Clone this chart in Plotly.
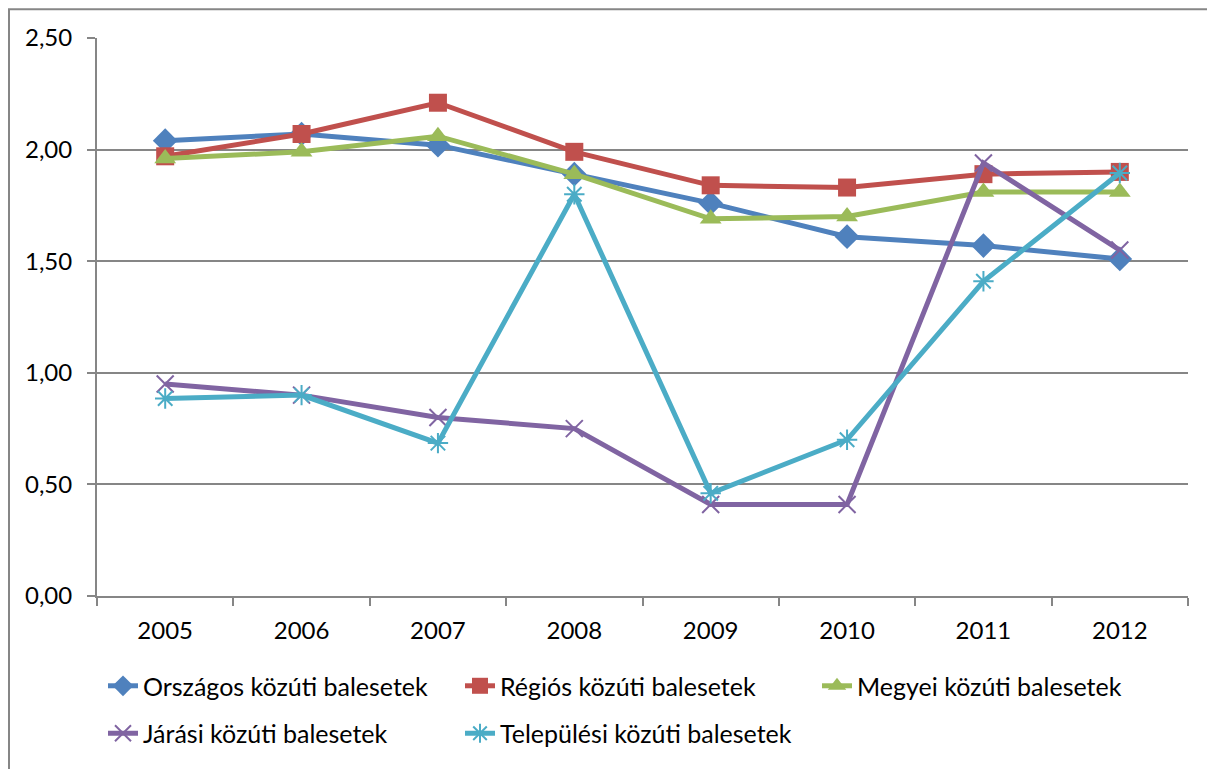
import plotly.graph_objects as go

years = ["2005", "2006", "2007", "2008", "2009", "2010", "2011", "2012"]
orszagos = [2.04, 2.07, 2.02, 1.89, 1.76, 1.61, 1.57, 1.51]
regios = [1.97, 2.07, 2.21, 1.99, 1.84, 1.83, 1.89, 1.90]
megyei = [1.96, 1.99, 2.06, 1.89, 1.69, 1.70, 1.81, 1.81]
jarasi = [0.95, 0.90, 0.80, 0.75, 0.41, 0.41, 1.94, 1.55]
telepulesi = [0.885, 0.90, 0.685, 1.80, 0.46, 0.70, 1.41, 1.895]

names = ["Országos közúti balesetek", "Régiós közúti balesetek", "Megyei közúti balesetek",
         "Járási közúti balesetek", "Települési közúti balesetek"]
colors = ["#4F81BD", "#C0504D", "#9BBB59", "#8064A2", "#4BACC6"]

FONT = "Lato, 'Liberation Sans', Arial, sans-serif"
# page body has an 8px margin; figure coordinates are screen minus 8
W, H = 1207, 761
L, R, T, B = 89, 1180, 30, 594

fig = go.Figure()
series = [orszagos, regios, megyei, jarasi, telepulesi]
markers = [
    dict(symbol="diamond", size=19),
    dict(symbol="square", size=18),
    dict(symbol="triangle-up", size=19),
    dict(symbol="x-thin", size=17, line=dict(width=2)),
    dict(symbol="asterisk", size=17, line=dict(width=2)),
]
for i, (vals, nm, c, mk) in enumerate(zip(series, names, colors, markers)):
    m = dict(mk, color=c)
    if "line" in m:
        m["line"] = dict(m["line"], color=c)
    fig.add_trace(go.Scatter(
        x=years, y=vals, name=nm, mode="lines+markers",
        line=dict(color=c, width=5), marker=m,
        legend="legend" if i < 3 else "legend2",
    ))

def px(x):
    return (x - L) / (R - L)

def py(y):
    return (B - y) / (B - T)

fig.update_layout(
    width=W, height=H,
    margin=dict(l=L, r=W - R, t=T, b=H - B),
    paper_bgcolor="white", plot_bgcolor="white",
    separators=", ",
    font=dict(family=FONT, size=24, color="black"),
    showlegend=True,
    legend=dict(orientation="h", x=px(95), xanchor="left", y=py(685), yanchor="middle",
                entrywidth=312, entrywidthmode="pixels", font=dict(size=25),
                bgcolor="rgba(0,0,0,0)", tracegroupgap=0),
    legend2=dict(orientation="h", x=px(95), xanchor="left", y=py(733), yanchor="middle",
                 entrywidth=312, entrywidthmode="pixels", font=dict(size=25),
                 bgcolor="rgba(0,0,0,0)", tracegroupgap=0),
    xaxis=dict(type="category", range=[-0.5, 7.5], tickson="boundaries",
               ticks="outside", ticklen=8, tickcolor="#868686", tickwidth=2,
               showline=True, linecolor="#868686", linewidth=2,
               showgrid=False, ticklabelstandoff=12,
               tickfont=dict(family=FONT, size=24)),
    yaxis=dict(range=[0, 2.5], dtick=0.5, tick0=0, tickformat=".2f",
               ticks="outside", ticklen=8, tickcolor="#868686", tickwidth=2,
               showline=True, linecolor="#868686", linewidth=2,
               showgrid=True, gridcolor="#868686", gridwidth=1.5,
               zeroline=False, ticklabelstandoff=10,
               tickfont=dict(family=FONT, size=24)),
    shapes=[dict(type="rect", xref="paper", yref="paper",
                 x0=px(1), x1=px(1204), y0=py(770), y1=py(1),
                 line=dict(color="#868686", width=2), fillcolor="rgba(0,0,0,0)",
                 layer="below")],
)

fig.write_html("out.html")
